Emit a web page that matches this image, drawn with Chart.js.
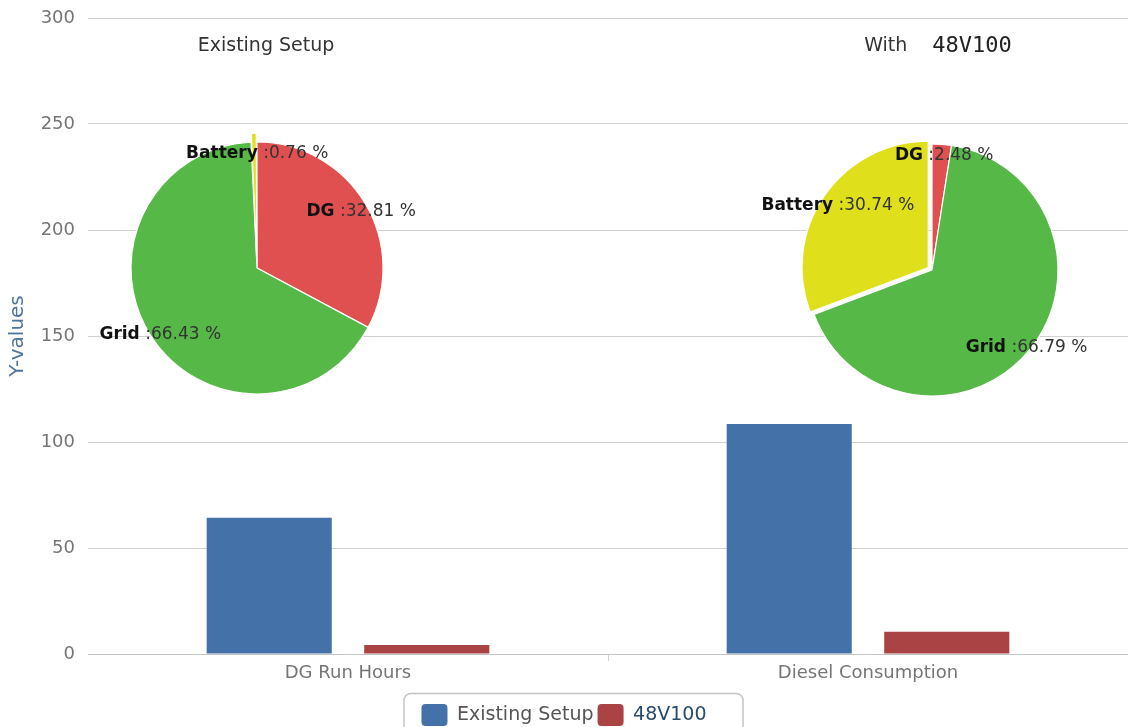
<!DOCTYPE html>
<html><head><meta charset="utf-8">
<style>
html,body{margin:0;padding:0;overflow:hidden;background:#fff;width:1128px;height:727px;}
#wrap{position:relative;width:1128px;height:727px;overflow:hidden;}
#wrap canvas{position:absolute;}
</style>
<script src="https://cdn.jsdelivr.net/npm/chart.js@4"></script>
</head><body>
<div id="wrap">
<canvas id="bar" width="1128" height="736" style="left:0;top:0"></canvas>
<canvas id="pie1" width="480" height="480" style="left:17px;top:28px"></canvas>
<canvas id="pie2" width="480" height="480" style="left:692px;top:30px"></canvas>
</div>
<script>
// ---- data ----
const categories = ['DG Run Hours', 'Diesel Consumption'];
const seriesNames = ['Existing Setup', '48V100'];
const existingSetup = [64.3, 108.5];
const with48V100 = [4.3, 10.5];
const yTicks = [0, 50, 100, 150, 200, 250, 300];
const yTitle = 'Y-values';
const pieLabels = ['DG', 'Grid', 'Battery'];
const existingShares = [32.81, 66.43, 0.76];
const withShares = [2.48, 66.79, 30.74];
const pieTitleExisting = 'Existing Setup';
const pieTitleWith = ['With', '48V100'];

// ---- styles ----
const FONT = '"DejaVu Sans", Verdana, sans-serif';
Chart.defaults.font.family = FONT;
const barColors = ['#4471a8', '#aa4343'];
const legendTextColors = ['#555555', '#274b6d'];
const pieColors = ['#e05050', '#56b847', '#dfe01b'];

const legendFrame = {
  id: 'legendFrame',
  afterDraw(chart) {
    const hb = chart.legend && chart.legend.legendHitBoxes;
    if (!hb || !hb.length) return;
    const a = hb[0], b = hb[hb.length - 1];
    const x0 = a.left - 18, x1 = b.left + b.width + 36, y0 = a.top - 11, y1 = chart.height + 20;
    const ctx = chart.ctx;
    ctx.save();
    ctx.strokeStyle = '#c4c4c4';
    ctx.lineWidth = 1.5;
    ctx.beginPath();
    ctx.roundRect(x0 + 0.5, y0 + 0.5, x1 - x0, y1 - y0, 7);
    ctx.stroke();
    ctx.restore();
  }
};

new Chart(document.getElementById('bar'), {
  type: 'bar',
  data: {
    labels: categories,
    datasets: [
      { label: seriesNames[0], data: existingSetup, backgroundColor: barColors[0], categoryPercentage: 0.606, barPercentage: 0.794 },
      { label: seriesNames[1], data: with48V100, backgroundColor: barColors[1], categoryPercentage: 0.606, barPercentage: 0.794 }
    ]
  },
  options: {
    responsive: false,
    animation: false,
    layout: { padding: { top: 18, left: 0, right: 0, bottom: 0 } },
    plugins: {
      tooltip: { enabled: false },
      legend: {
        position: 'bottom',
        labels: {
          boxWidth: 26, boxHeight: 22, padding: 4,
          font: { size: 19 },
          useBorderRadius: true, borderRadius: 4,
          generateLabels: (chart) => chart.data.datasets.map((ds, i) => ({
            text: ds.label, fillStyle: ds.backgroundColor, strokeStyle: ds.backgroundColor,
            lineWidth: 0, hidden: false, datasetIndex: i, fontColor: legendTextColors[i], borderRadius: 4
          }))
        }
      }
    },
    scales: {
      x: {
        grid: {
          offset: true, drawOnChartArea: false, drawTicks: true, tickLength: 7,
          color: (c) => c.index === 1 ? '#c8d4e0' : 'rgba(0,0,0,0)'
        },
        border: { display: true, color: '#c4c4c4' },
        ticks: { font: { size: 18 }, color: '#757575', padding: 2 },
        afterFit: (s) => { s.height = 46; }
      },
      y: {
        min: 0, max: 300,
        afterBuildTicks: (s) => { s.ticks = yTicks.map(v => ({ value: v })); },
        grid: { color: '#cfcfcf', drawTicks: false },
        border: { display: false },
        ticks: { font: { size: 18 }, color: '#757575', padding: 13 },
        title: { display: true, text: yTitle, color: '#4d759e', font: { size: 20 }, padding: { top: 6, bottom: 0 } },
        afterFit: (s) => { s.width = 88; s.paddingTop = 0; s.paddingBottom = 0; }
      }
    }
  },
  plugins: [legendFrame]
});

const pieLabelPlugin = {
  id: 'pieLabels',
  afterDatasetsDraw(chart, args, opts) {
    const ctx = chart.ctx;
    const meta = chart.getDatasetMeta(0);
    const data = chart.data.datasets[0].data;
    meta.data.forEach((arc, i) => {
      const p = arc.getProps(['x', 'y', 'startAngle', 'endAngle'], true);
      const mid = (p.startAngle + p.endAngle) / 2;
      const px = p.x + Math.cos(mid) * opts.distance + opts.dx;
      const py = p.y + Math.sin(mid) * opts.distance + opts.dy;
      const name = chart.data.labels[i];
      const rest = ' :' + data[i].toFixed(2) + ' %';
      ctx.save();
      ctx.textBaseline = 'middle';
      ctx.font = 'bold 17px ' + FONT;
      const w1 = ctx.measureText(name).width;
      ctx.font = '17px ' + FONT;
      const w2 = ctx.measureText(rest).width;
      const sx = px - (w1 + w2) / 2;
      ctx.font = 'bold 17px ' + FONT;
      ctx.fillStyle = '#111';
      ctx.fillText(name, sx, py);
      ctx.font = '17px ' + FONT;
      ctx.fillStyle = '#333';
      ctx.fillText(rest, sx + w1, py);
      ctx.restore();
    });
  }
};

const pieTitlePlugin = {
  id: 'pieTitle',
  afterDraw(chart, args, opts) {
    const ctx = chart.ctx;
    const cx = chart.chartArea.left + chart.chartArea.width / 2 + opts.dx;
    ctx.save();
    ctx.textBaseline = 'middle';
    if (Array.isArray(opts.text)) {
      ctx.font = '19px ' + FONT;
      const w1 = ctx.measureText(opts.text[0]).width;
      ctx.font = '22px "DejaVu Sans Mono", monospace';
      const w2 = ctx.measureText(opts.text[1]).width;
      const gap = 25;
      const sx = cx - (w1 + gap + w2) / 2;
      ctx.font = '19px ' + FONT;
      ctx.fillStyle = '#333';
      ctx.fillText(opts.text[0], sx, opts.y);
      ctx.font = '22px "DejaVu Sans Mono", monospace';
      ctx.fillStyle = '#222';
      ctx.fillText(opts.text[1], sx + w1 + gap, opts.y);
    } else {
      ctx.font = '19px ' + FONT;
      ctx.fillStyle = '#333';
      ctx.textAlign = 'center';
      ctx.fillText(opts.text, cx, opts.y);
    }
    ctx.restore();
  }
};

function makePie(id, shares, title, titleY, dx, ldx, ldy) {
  new Chart(document.getElementById(id), {
    type: 'pie',
    data: {
      labels: pieLabels,
      datasets: [{ data: shares, backgroundColor: pieColors, borderColor: '#ffffff', borderWidth: 1.2, offset: [0, 0, 18], radius: 126 }]
    },
    options: {
      responsive: false,
      animation: false,
      layout: { padding: 0 },
      plugins: {
        legend: { display: false },
        tooltip: { enabled: false },
        pieLabels: { distance: 118, dx: ldx, dy: ldy },
        pieTitle: { text: title, y: titleY, dx: dx }
      }
    },
    plugins: [pieLabelPlugin, pieTitlePlugin]
  });
}
makePie('pie1', existingShares, pieTitleExisting, 18, 9, 3, 4);
makePie('pie2', withShares, pieTitleWith, 16, 6, 3, 3);
</script>
</body></html>
